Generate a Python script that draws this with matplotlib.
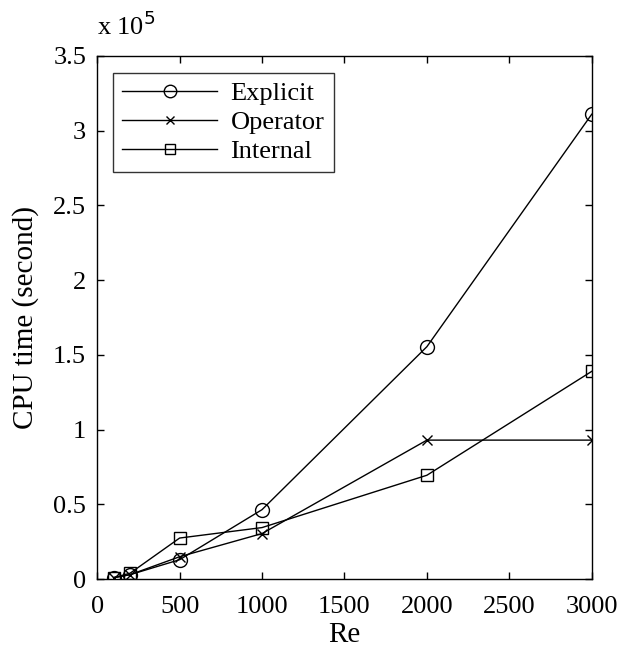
import matplotlib
matplotlib.use("Agg")
import matplotlib.pyplot as plt
import numpy as np

re_vals = [100, 200, 500, 1000, 2000, 3000]
explicit = [1000, 3000, 13000, 46500, 155500, 311000]
operator = [1000, 3000, 15000, 30500, 93000, 93000]
internal = [1000, 4000, 27500, 34500, 69500, 139000]

plt.rcParams['font.family'] = ['Liberation Serif', 'DejaVu Serif']

fig = plt.figure(figsize=(6.19, 6.5), dpi=100)
ax = fig.add_axes([0.157, 0.109, 0.799, 0.805])

scale = 1e5
ax.plot(re_vals, np.array(explicit) / scale, '-o', color='k', lw=1, ms=10,
        mfc='none', mew=1, label='Explicit')
ax.plot(re_vals, np.array(operator) / scale, '-x', color='k', lw=1, ms=7,
        mew=1, label='Operator')
ax.plot(re_vals, np.array(internal) / scale, '-s', color='k', lw=1, ms=8,
        mfc='none', mew=1, label='Internal')

ax.set_xlim(0, 3000)
ax.set_ylim(0, 3.5)
ax.set_xticks(np.arange(0, 3001, 500))
ax.set_yticks(np.arange(0, 3.51, 0.5))
ax.set_yticklabels(['0', '0.5', '1', '1.5', '2', '2.5', '3', '3.5'])
ax.tick_params(direction='in', top=True, right=True, length=5, width=1,
               labelsize=19, pad=8)
ax.tick_params(axis='x', pad=12)
for s in ax.spines.values():
    s.set_linewidth(1)

ax.set_xlabel('Re', fontsize=21, labelpad=3)
ax.set_ylabel('CPU time (second)', fontsize=21, labelpad=10)
ax.text(0.0, 1.03, r'x 10$^{5}$', transform=ax.transAxes, fontsize=19,
        ha='left', va='bottom')

leg = ax.legend(loc='upper left', bbox_to_anchor=(0.032, 0.968), fontsize=19,
                frameon=True, fancybox=False, edgecolor='k', handlelength=3.6,
                borderpad=0.35, labelspacing=0.2, handletextpad=0.5,
                borderaxespad=0, markerscale=0.9)
leg.get_frame().set_linewidth(1)

fig.savefig('out.png', dpi=100)
